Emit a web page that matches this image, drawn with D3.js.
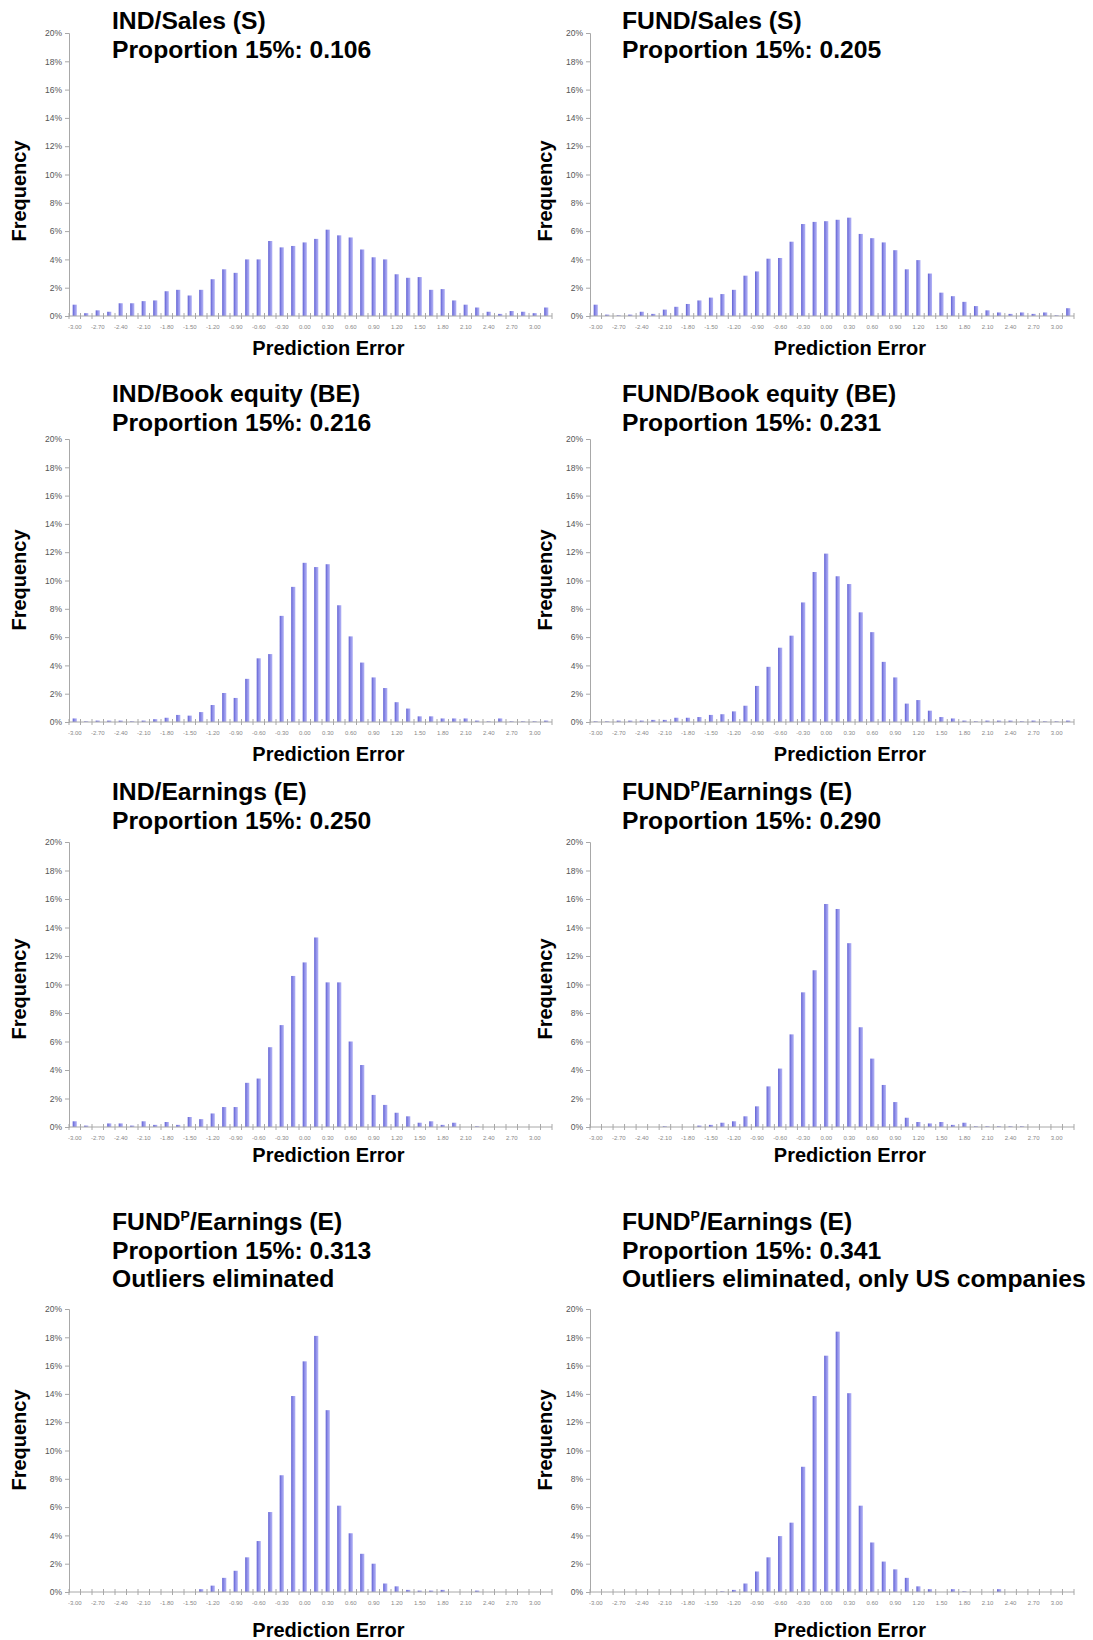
<!DOCTYPE html>
<html>
<head>
<meta charset="utf-8">
<script src="https://cdn.jsdelivr.net/npm/d3@7/dist/d3.min.js"></script>
<style>
  body { margin: 0; background: #fff; }
  svg { display: block; font-family: "Liberation Sans", Arial, sans-serif; }
  .tick-x { font-size: 6px; fill: #888; }
</style>
</head>
<body>
<div id="chart"></div>
<script>
// bins of the prediction error (upper limits), last one is Excel's "More"
const binLabels = ["-3.00","-2.85","-2.70","-2.55","-2.40","-2.25","-2.10","-1.95","-1.80","-1.65",
  "-1.50","-1.35","-1.20","-1.05","-0.90","-0.75","-0.60","-0.45","-0.30","-0.15",
  "0.00","0.15","0.30","0.45","0.60","0.75","0.90","1.05","1.20","1.35",
  "1.50","1.65","1.80","1.95","2.10","2.25","2.40","2.55","2.70","2.85","3.00","More"];
const xTickLabels = ["-3.00","-2.70","-2.40","-2.10","-1.80","-1.50","-1.20","-0.90","-0.60","-0.30",
  "0.00","0.30","0.60","0.90","1.20","1.50","1.80","2.10","2.40","2.70","3.00"];
const yTicks = [0, 2, 4, 6, 8, 10, 12, 14, 16, 18, 20];

// frequency in % per bin
const indSales = [0.8,0.2,0.4,0.3,0.9,0.9,1.05,1.1,1.75,1.85, 1.45,1.85,2.6,3.3,3.05,4.0,4.0,5.3,4.85,4.95,
  5.2,5.45,6.1,5.7,5.55,4.7,4.15,4.0,2.95,2.7, 2.75,1.85,1.9,1.1,0.8,0.6,0.3,0.15,0.35,0.3, 0.2,0.6];
const fundSales = [0.8,0.1,0.05,0.1,0.3,0.15,0.45,0.65,0.85,1.1, 1.3,1.55,1.85,2.85,3.15,4.05,4.1,5.25,6.5,6.65,
  6.7,6.8,6.95,5.8,5.5,5.2,4.65,3.3,3.95,3.0, 1.65,1.4,1.0,0.7,0.4,0.25,0.15,0.25,0.15,0.25, 0.05,0.55];
const indBE = [0.25,0.05,0.1,0.1,0.1,0.05,0.1,0.2,0.3,0.5, 0.45,0.7,1.2,2.05,1.7,3.05,4.5,4.8,7.5,9.55,
  11.25,10.95,11.15,8.25,6.05,4.2,3.15,2.4,1.4,0.95, 0.4,0.4,0.25,0.25,0.25,0.1,0.05,0.25,0.05,0.05, 0.05,0.1];
const fundBE = [0.05,0.05,0.1,0.1,0.1,0.15,0.15,0.3,0.3,0.35, 0.5,0.55,0.75,1.15,2.55,3.9,5.25,6.1,8.45,10.6,
  11.9,10.3,9.75,7.75,6.35,4.25,3.15,1.3,1.55,0.8, 0.35,0.25,0.1,0.05,0.1,0.1,0.1,0.05,0.1,0.05, 0.05,0.1];
const indE = [0.4,0.1,0,0.25,0.25,0.1,0.4,0.15,0.35,0.15, 0.7,0.55,0.95,1.4,1.4,3.1,3.4,5.6,7.15,10.6,
  11.55,13.3,10.15,10.15,6.0,4.35,2.25,1.55,1.0,0.75, 0.3,0.4,0.15,0.3,0,0.05,0,0,0,0, 0,0];
const fundPE = [0,0,0,0,0,0,0.05,0,0,0.1, 0.15,0.3,0.4,0.75,1.45,2.85,4.1,6.5,9.45,11.0,
  15.65,15.3,12.9,7.0,4.8,2.95,1.75,0.65,0.35,0.25, 0.35,0.15,0.3,0.05,0.05,0.05,0.05,0.05,0,0, 0,0];
const fundPEOut = [0,0,0,0,0,0,0,0,0,0, 0,0.2,0.45,1.0,1.5,2.45,3.6,5.65,8.25,13.85,
  16.3,18.1,12.85,6.1,4.15,2.7,2.0,0.6,0.4,0.15, 0.1,0.1,0.15,0,0,0.1,0,0,0,0, 0,0];
const fundPEOutUS = [0,0,0,0,0,0,0,0,0,0, 0,0.05,0.15,0.6,1.45,2.45,3.95,4.9,8.85,13.85,
  16.7,18.4,14.05,6.1,3.5,2.15,1.6,1.0,0.4,0.2, 0,0.2,0.05,0,0,0.2,0,0,0,0, 0,0];

// title lines; "^P" marks the superscript
const panels = [
  { values: indSales,    title: ["IND/Sales (S)", "Proportion 15%: 0.106"] },
  { values: fundSales,   title: ["FUND/Sales (S)", "Proportion 15%: 0.205"] },
  { values: indBE,       title: ["IND/Book equity (BE)", "Proportion 15%: 0.216"] },
  { values: fundBE,      title: ["FUND/Book equity (BE)", "Proportion 15%: 0.231"] },
  { values: indE,        title: ["IND/Earnings (E)", "Proportion 15%: 0.250"] },
  { values: fundPE,      title: ["FUND^P/Earnings (E)", "Proportion 15%: 0.290"] },
  { values: fundPEOut,   title: ["FUND^P/Earnings (E)", "Proportion 15%: 0.313", "Outliers eliminated"] },
  { values: fundPEOutUS, title: ["FUND^P/Earnings (E)", "Proportion 15%: 0.341", "Outliers eliminated, only US companies"] }
];

const width = 1093, height = 1640;

// layout: columns and rows
const cols = [
  { x0: 69, x1: 552, titleX: 112, freqX: 19 },
  { x0: 590, x1: 1074, titleX: 622, freqX: 545 }
];
const rows = [
  { top: 33, bottom: 316, titleY: 29, freqY: 191, xlabY: 329, peY: 355 },
  { top: 439, bottom: 722, titleY: 402, freqY: 580, xlabY: 735, peY: 761 },
  { top: 842, bottom: 1127, titleY: 800, freqY: 989, xlabY: 1140, peY: 1162 },
  { top: 1309, bottom: 1592, titleY: 1230, freqY: 1440, xlabY: 1605, peY: 1637 }
];

const svg = d3.select('#chart')
  .append('svg')
  .attr('width', width)
  .attr('height', height);

svg.append('rect')
  .attr('width', width)
  .attr('height', height)
  .attr('fill', '#fff');

const defs = svg.append('defs');
const grad = defs.append('linearGradient').attr('id', 'barFill');
grad.append('stop').attr('offset', '0%').attr('stop-color', '#5f5fd2');
grad.append('stop').attr('offset', '45%').attr('stop-color', '#8e8ee8');
grad.append('stop').attr('offset', '100%').attr('stop-color', '#b4b4f6');

panels.forEach((p, i) => {
  const col = cols[i % 2];
  const row = rows[Math.floor(i / 2)];
  const g = svg.append('g');

  const x = d3.scaleBand()
    .domain(binLabels)
    .range([col.x0, col.x1])
    .paddingInner(0.64)
    .paddingOuter(0.32);

  const y = d3.scaleLinear()
    .domain([0, 20])
    .range([row.bottom, row.top]);

  // Y axis
  const yAxis = d3.axisLeft(y)
    .tickValues(yTicks)
    .tickSize(4)
    .tickPadding(3)
    .tickFormat(d => d + '%');

  const yg = g.append('g')
    .attr('transform', `translate(${col.x0},0)`)
    .call(yAxis);
  yg.select('.domain').attr('stroke', '#a8a8a8');
  yg.selectAll('.tick line').attr('stroke', '#a8a8a8');
  yg.selectAll('.tick text')
    .attr('fill', '#555')
    .style('font-size', '8.5px')
    .style('font-family', '"Liberation Sans", Arial, sans-serif');

  // bars
  g.selectAll('.bar')
    .data(p.values)
    .enter()
    .append('rect')
    .attr('class', 'bar')
    .attr('x', (d, j) => x(binLabels[j]))
    .attr('y', d => y(d))
    .attr('width', x.bandwidth())
    .attr('height', d => y(0) - y(d))
    .attr('fill', 'url(#barFill)');

  // X axis line with crossing ticks between categories
  g.append('line')
    .attr('x1', col.x0).attr('x2', col.x1)
    .attr('y1', y(0)).attr('y2', y(0))
    .attr('stroke', '#a8a8a8');

  const step = x.step();
  const bounds = binLabels.map(b => x(b) + x.bandwidth() / 2 - step / 2)
    .concat([x(binLabels[binLabels.length - 1]) + x.bandwidth() / 2 + step / 2]);
  g.selectAll('.xtick')
    .data(bounds)
    .enter()
    .append('line')
    .attr('x1', d => d).attr('x2', d => d)
    .attr('y1', y(0) - 3).attr('y2', y(0) + 3)
    .attr('stroke', '#a8a8a8');

  g.selectAll('.tick-x')
    .data(xTickLabels)
    .enter()
    .append('text')
    .attr('class', 'tick-x')
    .attr('x', d => x(d) + x.bandwidth() / 2)
    .attr('y', row.xlabY)
    .attr('text-anchor', 'middle')
    .text(d => d);

  // axis titles
  g.append('text')
    .attr('transform', `translate(${col.freqX},${row.freqY}) rotate(-90)`)
    .attr('text-anchor', 'middle')
    .attr('dy', '0.35em')
    .style('font-size', '20px')
    .style('font-weight', 'bold')
    .text('Frequency');

  g.append('text')
    .attr('x', (col.x0 + col.x1) / 2 + 18)
    .attr('y', row.peY)
    .attr('text-anchor', 'middle')
    .style('font-size', '20px')
    .style('font-weight', 'bold')
    .text('Prediction Error');

  // panel title
  p.title.forEach((line, k) => {
    const t = g.append('text')
      .attr('x', col.titleX)
      .attr('y', row.titleY + k * 28.5)
      .style('font-size', '24.7px')
      .style('font-weight', 'bold');
    if (line.includes('^P')) {
      const parts = line.split('^P');
      t.append('tspan').text(parts[0]);
      t.append('tspan').attr('dy', -9).style('font-size', '14px').text('P');
      t.append('tspan').attr('dy', 9).text(parts[1]);
    } else {
      t.text(line);
    }
  });
});
</script>
</body>
</html>
